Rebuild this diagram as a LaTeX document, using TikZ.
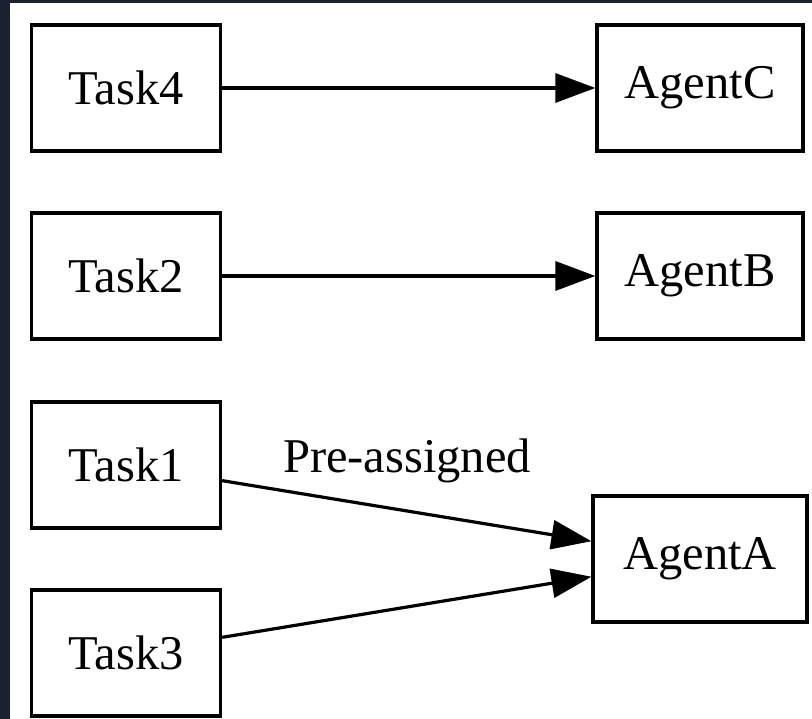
\documentclass[tikz,border=0pt]{standalone}
\usepackage{fontspec}
\setmainfont{Liberation Serif}
\usetikzlibrary{arrows.meta}
\definecolor{frame}{HTML}{1B2130}
\begin{document}
\begin{tikzpicture}[x=1pt,y=1pt,
  box/.style={draw=black, line width=3.2pt, fill=white, minimum height=126pt, inner sep=0pt,
    font=\fontsize{48.5}{58}\selectfont},
  edge/.style={draw=black, line width=3.2pt, -{Triangle[length=40pt,width=29pt]}},
  lbl/.style={font=\fontsize{48.5}{58}\selectfont, inner sep=0pt}]
\useasboundingbox (0,0) rectangle (812,719);
\fill[frame] (0,0) rectangle (812,719);
\fill[white] (10,0) rectangle (812,716);
\node[box, minimum width=189pt] (t4) at (126,631) {Task4};
\node[box, minimum width=189pt] (t2) at (126,443) {Task2};
\node[box, minimum width=189pt] (t1) at (126,254) {Task1};
\node[box, minimum width=189pt] (t3) at (126,66) {Task3};
\node[box, minimum width=206pt] (ac) at (700,631) {AgentC};
\node[box, minimum width=206pt] (ab) at (700,443) {AgentB};
\node[box, minimum width=214pt] (aa) at (700,160) {AgentA};
\draw[edge] (t4) -- (ac);
\draw[edge] (t2) -- (ab);
\draw[edge] (t1) -- (aa);
\draw[edge] (t3) -- (aa);
\node[lbl, anchor=base] (pl) at (407,246) {Pre-assigned};
\end{tikzpicture}
\end{document}
